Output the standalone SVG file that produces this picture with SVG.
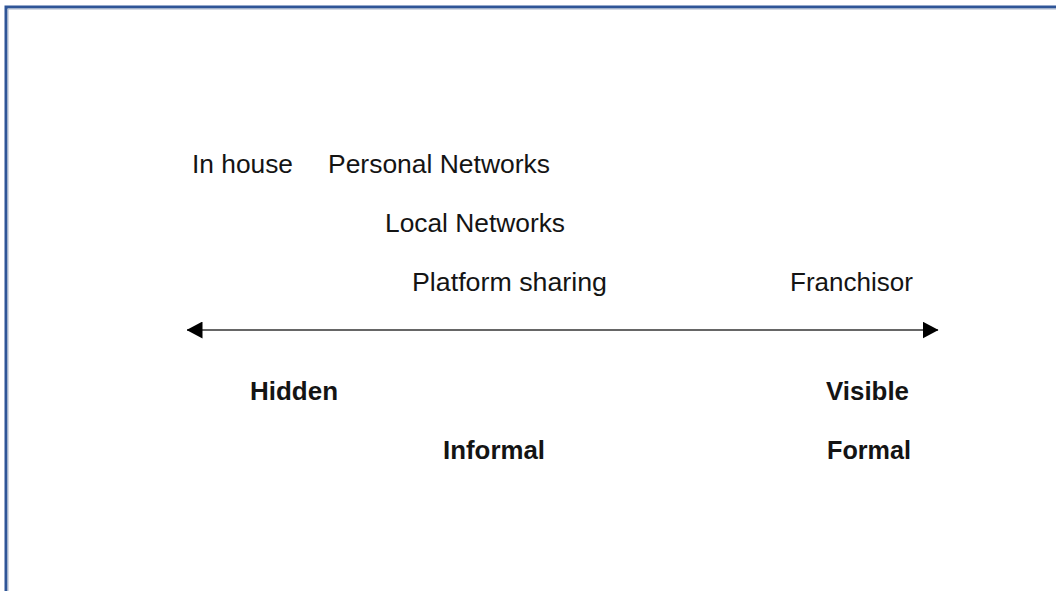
<svg xmlns="http://www.w3.org/2000/svg" width="1056" height="591" viewBox="0 0 1056 591">
  <style>
    .lbl { font-family: "Liberation Sans", Arial, sans-serif; font-size: 26px; fill: #141414; }
    .bold { font-weight: bold; }
  </style>
  <defs>
    <marker id="ah" markerUnits="userSpaceOnUse" markerWidth="16" markerHeight="17" viewBox="0 0 16 17" refX="15.5" refY="8.5" orient="auto-start-reverse">
      <path d="M0,0 L16,8.5 L0,17 Z" fill="#000"/>
    </marker>
  </defs>
  <rect x="0" y="0" width="1056" height="591" fill="#fff"/>
  <g id="frame">
    <path d="M6,591 V7 H1056" fill="none" stroke="#2F5597" stroke-width="3"/>
    <path d="M8,591 V9 H1056" fill="none" stroke="#A8B4C8" stroke-width="1"/>
  </g>
  <g id="connectors">
    <line x1="187" y1="330" x2="938" y2="330" stroke="#333" stroke-width="1.6" marker-start="url(#ah)" marker-end="url(#ah)"/>
  </g>
  <g id="in-house"><text class="lbl" x="192" y="173" textLength="101" lengthAdjust="spacingAndGlyphs">In house</text></g>
  <g id="personal-networks"><text class="lbl" x="328" y="173" textLength="222" lengthAdjust="spacingAndGlyphs">Personal Networks</text></g>
  <g id="local-networks"><text class="lbl" x="385" y="232" textLength="180" lengthAdjust="spacingAndGlyphs">Local Networks</text></g>
  <g id="platform-sharing"><text class="lbl" x="412" y="291" textLength="195" lengthAdjust="spacingAndGlyphs">Platform sharing</text></g>
  <g id="franchisor"><text class="lbl" x="790" y="291" textLength="123" lengthAdjust="spacingAndGlyphs">Franchisor</text></g>
  <g id="hidden"><text class="lbl bold" x="250" y="400" textLength="88" lengthAdjust="spacingAndGlyphs">Hidden</text></g>
  <g id="visible"><text class="lbl bold" x="826" y="400" textLength="83" lengthAdjust="spacingAndGlyphs">Visible</text></g>
  <g id="informal"><text class="lbl bold" x="443" y="459" textLength="102" lengthAdjust="spacingAndGlyphs">Informal</text></g>
  <g id="formal"><text class="lbl bold" x="827" y="459" textLength="84" lengthAdjust="spacingAndGlyphs">Formal</text></g>
</svg>
